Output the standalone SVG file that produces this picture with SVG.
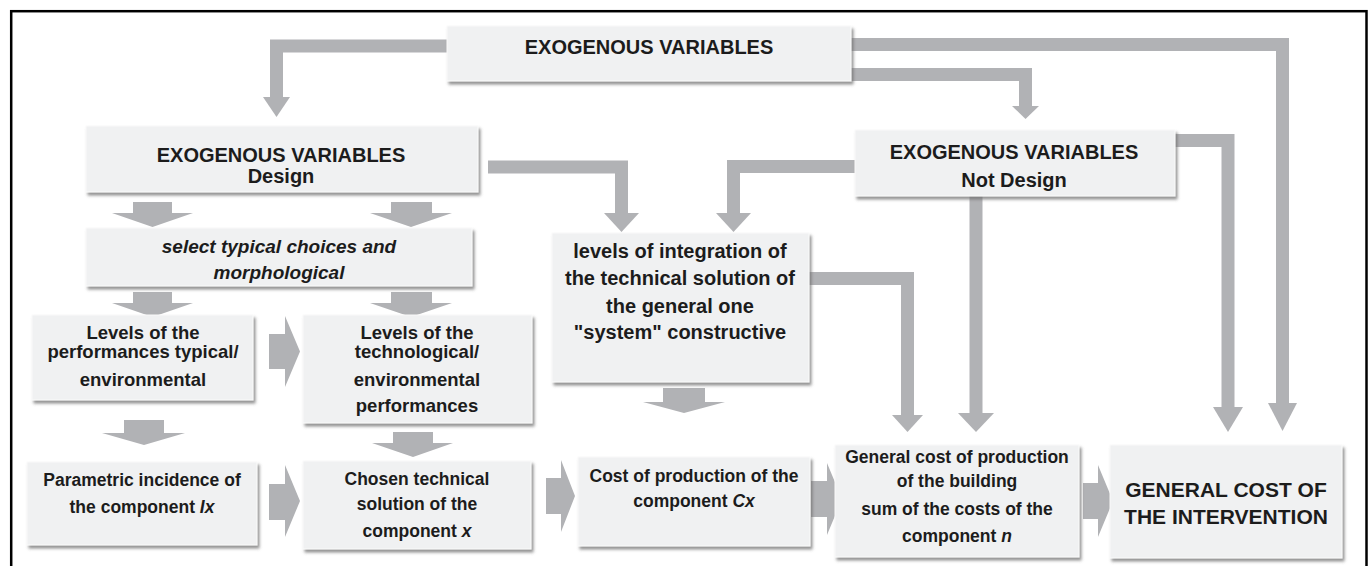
<svg xmlns="http://www.w3.org/2000/svg" width="1371" height="566" viewBox="0 0 1371 566">
<defs>
<filter id="sh" x="-5%" y="-10%" width="115%" height="130%">
<feDropShadow dx="2" dy="3" stdDeviation="1.6" flood-color="#6e6e6e" flood-opacity="0.75"/>
</filter>
<style>
.box{fill:#f0f1f2;stroke:#fafafa;stroke-width:1;filter:url(#sh)}
.ln{fill:none;stroke:#b1b2b5;stroke-width:13;stroke-linejoin:miter}
.hd{fill:#b1b2b5}
text{font-family:"Liberation Sans",Arial,sans-serif;font-weight:bold;fill:#1c1c1c;text-anchor:middle}
.t20{font-size:20px}
.t19{font-size:19px}
.t18{font-size:18.5px}
.t17{font-size:17.5px}
.t21{font-size:21px}
.it{font-style:italic}
</style>
</defs>
<rect x="0" y="0" width="1371" height="566" fill="#ffffff"/>
<rect x="11.2" y="11.2" width="1355.3" height="600" fill="none" stroke="#000" stroke-width="2.5"/>

<g id="connectors">
<path class="ln" d="M447,46 H276.5 V97"/>
<polygon class="hd" points="263,97 290,97 276.5,117"/>
<path class="ln" d="M851,44.5 H1282.5 V403"/>
<polygon class="hd" points="1268,403 1297,403 1282.5,431"/>
<path class="ln" d="M851,74.5 H1025.5 V106"/>
<polygon class="hd" points="1012,106 1039,106 1025.5,119"/>
<path class="ln" d="M488,167 H621.5 V213"/>
<polygon class="hd" points="604,213 639,213 621.5,232"/>
<path class="ln" d="M855,166.5 H733.5 V213"/>
<polygon class="hd" points="716,213 751,213 733.5,232"/>
<path class="ln" d="M1175,140.5 H1228 V407"/>
<polygon class="hd" points="1213,407 1243,407 1228,432"/>
<path class="ln" d="M976,196 V413"/>
<polygon class="hd" points="958,413 994,413 976,432"/>
<path class="ln" d="M809,278.5 H907.5 V415"/>
<polygon class="hd" points="892,415 923,415 907.5,432"/>
<!-- block down arrows -->
<polygon class="hd" points="133,202 172,202 172,213 193,213 152.5,227 112,213 133,213"/>
<polygon class="hd" points="391,202 432,202 432,213 452,213 411,227 370,213 391,213"/>
<polygon class="hd" points="133,292 172,292 172,303 193,303 152.5,317 112,303 133,303"/>
<polygon class="hd" points="391,292 432,292 432,303 452,303 411,317 370,303 391,303"/>
<polygon class="hd" points="124,420 164,420 164,433 185,433 144,445 102,433 124,433"/>
<polygon class="hd" points="393,432 433,432 433,443 453,443 413,457 372,443 393,443"/>
<polygon class="hd" points="663,388 705,388 705,402 725,402 684,413 643,402 663,402"/>
<!-- block right arrows -->
<polygon class="hd" points="269,334 285,334 285,316 300,351.5 285,387 285,369 269,369"/>
<polygon class="hd" points="269,484 285,484 285,465 300,501 285,537 285,520 269,520"/>
<polygon class="hd" points="546,478 561,478 561,460 575,496 561,532 561,514 546,514"/>
<polygon class="hd" points="811,481 827,481 827,463 842,499 827,535 827,517 811,517"/>
<polygon class="hd" points="1083,483 1098,483 1098,465 1113,501 1098,537 1098,519 1083,519"/>
</g>

<g id="n-exo-top">
<rect class="box" x="447" y="26" width="404" height="55"/>
<text class="t20" x="649" y="54">EXOGENOUS VARIABLES</text>
</g>
<g id="n-exo-design">
<rect class="box" x="86" y="126" width="392" height="66"/>
<text class="t20" x="281" y="162">EXOGENOUS VARIABLES</text>
<text class="t20" x="281" y="183">Design</text>
</g>
<g id="n-exo-notdesign">
<rect class="box" x="855" y="130" width="320" height="66"/>
<text class="t20" x="1014" y="159">EXOGENOUS VARIABLES</text>
<text class="t20" x="1014" y="187">Not Design</text>
</g>
<g id="n-select">
<rect class="box" x="86" y="228" width="386" height="58"/>
<text class="t19 it" x="279" y="253">select typical choices and</text>
<text class="t19 it" x="279" y="279">morphological</text>
</g>
<g id="n-integration">
<rect class="box" x="552" y="233" width="257" height="149"/>
<text class="t20" x="680" y="258">levels of integration of</text>
<text class="t20" x="680" y="285">the technical solution of</text>
<text class="t20" x="680" y="313">the general one</text>
<text class="t20" x="680" y="339">"system" constructive</text>
</g>
<g id="n-levels-perf">
<rect class="box" x="32" y="315" width="221" height="85"/>
<text class="t18" x="143" y="339">Levels of the</text>
<text class="t18" x="143" y="358">performances typical/</text>
<text class="t18" x="143" y="386">environmental</text>
</g>
<g id="n-levels-tech">
<rect class="box" x="303" y="315" width="229" height="108"/>
<text class="t18" x="417" y="339">Levels of the</text>
<text class="t18" x="417" y="358">technological/</text>
<text class="t18" x="417" y="386">environmental</text>
<text class="t18" x="417" y="412">performances</text>
</g>
<g id="n-parametric">
<rect class="box" x="27" y="462" width="230" height="83"/>
<text class="t17" x="142" y="486">Parametric incidence of</text>
<text class="t17" x="142" y="513">the component <tspan class="it">Ix</tspan></text>
</g>
<g id="n-chosen">
<rect class="box" x="303" y="461" width="228" height="88"/>
<text class="t17" x="417" y="485">Chosen technical</text>
<text class="t17" x="417" y="510">solution of the</text>
<text class="t17" x="417" y="537">component <tspan class="it">x</tspan></text>
</g>
<g id="n-cost">
<rect class="box" x="578" y="457" width="232" height="89"/>
<text class="t17" x="694" y="482">Cost of production of the</text>
<text class="t17" x="694" y="507">component <tspan class="it">Cx</tspan></text>
</g>
<g id="n-general-cost">
<rect class="box" x="835" y="445" width="244" height="112"/>
<text class="t17" x="957" y="463">General cost of production</text>
<text class="t17" x="957" y="487">of the building</text>
<text class="t17" x="957" y="515">sum of the costs of the</text>
<text class="t17" x="957" y="542">component <tspan class="it">n</tspan></text>
</g>
<g id="n-final">
<rect class="box" x="1110" y="445" width="232" height="113"/>
<text class="t21" x="1226" y="497">GENERAL COST OF</text>
<text class="t21" x="1226" y="524">THE INTERVENTION</text>
</g>
</svg>
